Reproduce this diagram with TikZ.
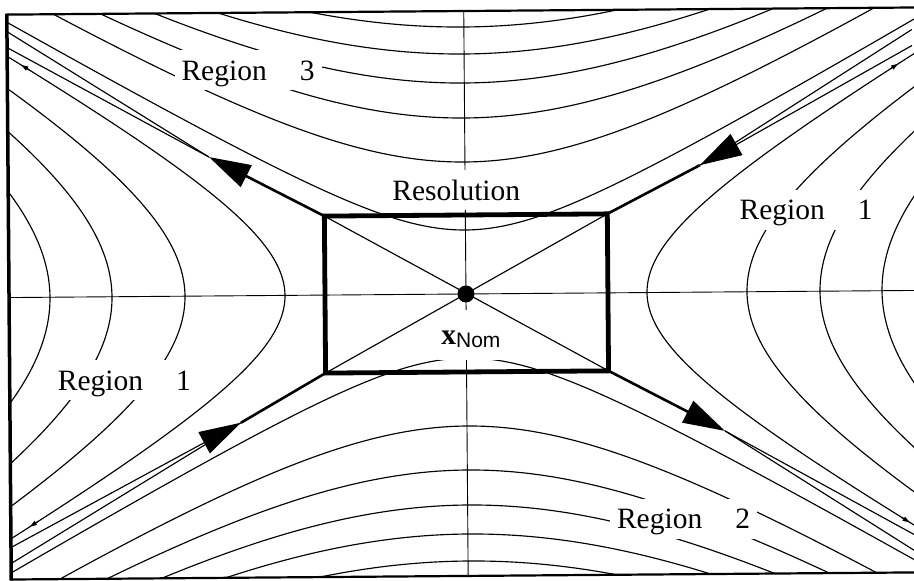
\documentclass[tikz,border=0pt]{standalone}
\usepackage{fontspec}
\setmainfont{Liberation Serif}
\newfontfamily\nomfont{Liberation Sans}
\usetikzlibrary{arrows.meta}
\begin{document}
\begin{tikzpicture}[x=1pt,y=-1pt,
  traj/.style={line width=1.15pt},
  axisline/.style={line width=0.9pt},
  shaft/.style={line width=2.6pt},
  bigtip/.style={-{Triangle[length=42pt,width=24pt]}},
  smalltip/.style={-{Triangle[length=7pt,width=4.5pt]}},
  lab/.style={fill=white, inner xsep=7pt, inner ysep=2pt, text height=28pt, text depth=8pt,
    font=\fontsize{29.5}{30}\selectfont, anchor=base west}]
\useasboundingbox (0,0) rectangle (914,581);
\begin{scope}[rotate around={0.45:(466,294)}]
\coordinate (C) at (466,294);
\coordinate (rUL) at (325,215);
\coordinate (rUR) at (608,215);
\coordinate (rLL) at (325,372);
\coordinate (rLR) at (608,372);
\coordinate (t1) at (210,155);
\coordinate (t2) at (701,167);
\coordinate (t3) at (240,421);
\coordinate (t4) at (724,433);
\coordinate (s1a) at (9,44);
\coordinate (s1b) at (9,28);
\coordinate (s2a) at (914,49);
\coordinate (s2b) at (914,33);
\coordinate (s3a) at (9,544);
\coordinate (s3b) at (9,560);
\coordinate (s4a) at (914,539);
\coordinate (s4b) at (914,555);
\coordinate (axL) at (0,294);
\coordinate (axR) at (940,294);
\coordinate (axT) at (466,0);
\coordinate (axB) at (466,590);
\begin{scope}
\clip (9,11) rectangle (930,576);
\draw[axisline] (axL) -- (axR);
\draw[axisline] (axT) -- (axB);
% Region 1 family (left / right)
\foreach \A/\k/\T in {181/0.575/1.65, 281/0.58/1.15, 354/0.575/0.83, 416/0.56/0.56}{
  \draw[traj] plot[domain=-\T:\T, samples=60, smooth, variable=\t] ({466+\A*cosh(\t)},{294+\k*\A*sinh(\t)});
  \draw[traj] plot[domain=-\T:\T, samples=60, smooth, variable=\t] ({466-\A*cosh(\t)},{294+\k*\A*sinh(\t)});
}
% Region 3 / Region 2 family (top / bottom)
\foreach \B/\k/\T in {64/0.586/2.2, 132/0.61/1.5, 176/0.61/1.3, 211/0.61/1.15, 240/0.61/1.0, 267/0.61/0.95}{
  \draw[traj] plot[domain=-\T:\T, samples=60, smooth, variable=\t] ({466+\B/\k*sinh(\t)},{294-\B*cosh(\t)});
  \draw[traj] plot[domain=-\T:\T, samples=60, smooth, variable=\t] ({466+\B/\k*sinh(\t)},{294+\B*cosh(\t)});
}
\end{scope}
% labels
\node[lab] (reg3) at (176,78) {Region\hspace{1.12em}3};
\node[lab, anchor=base] (res) at (457,200) {Resolution};
\node[lab] (reg1r) at (733,222) {Region\hspace{1.12em}1};
\node[lab] (reg1l) at (50,387) {Region\hspace{1.12em}1};
\node[lab] (reg2) at (608,530) {Region\hspace{1.12em}2};
\node[lab, anchor=base, text height=32pt, text depth=12pt, inner xsep=3pt, inner ysep=3pt] (xnom) at (470.5,345)
  {\textbf{x}\raisebox{-3pt}{\nomfont\fontsize{21}{21}\selectfont Nom}};
% diagonals and resolution box
\draw[traj] (rUL) -- (rLR);
\draw[traj] (rUR) -- (rLL);
\draw[line width=4.8pt] (rUL) rectangle (rLR);
% separatrices
\draw[shaft, bigtip] (rUL) -- (t1);
\draw[traj] (t1) -- (s1a);
\draw[traj] (t1) -- (s1b);
\draw[shaft] (rUR) -- (t2);
\draw[traj, bigtip] (s2a) -- (t2);
\draw[traj] (s2b) -- (t2);
\draw[shaft] (rLL) -- (t3);
\draw[traj, bigtip] (s3a) -- (t3);
\draw[traj] (s3b) -- (t3);
\draw[shaft, bigtip] (rLR) -- (t4);
\draw[traj] (t4) -- (s4a);
\draw[traj] (t4) -- (s4b);
% small marks
\coordinate (m1a) at (31,66.5); \coordinate (m1b) at (23,61.5);
\coordinate (m2a) at (36,518.3); \coordinate (m2b) at (28,523.3);
\coordinate (m3a) at (892,72.2); \coordinate (m3b) at (900,67.2);
\coordinate (m4a) at (900,520.9); \coordinate (m4b) at (908,525.9);
\draw[traj, smalltip] (m1a) -- (m1b);
\draw[traj, smalltip] (m2a) -- (m2b);
\draw[traj, smalltip] (m3a) -- (m3b);
\draw[traj, smalltip] (m4a) -- (m4b);
% nominal point
\fill (C) circle (8.5);
% frame
\coordinate (fTL) at (9,11);
\coordinate (fBL) at (9,576);
\coordinate (fTR) at (930,11);
\coordinate (fBR) at (930,576);
\draw[line width=2.2pt] (fTR) -- (fTL);
\draw[line width=2.2pt] (fBR) -- (fBL);
\draw[line width=3.5pt] ([yshift=1pt]fTL) -- ([yshift=-1pt]fBL);
\end{scope}
\end{tikzpicture}
\end{document}
